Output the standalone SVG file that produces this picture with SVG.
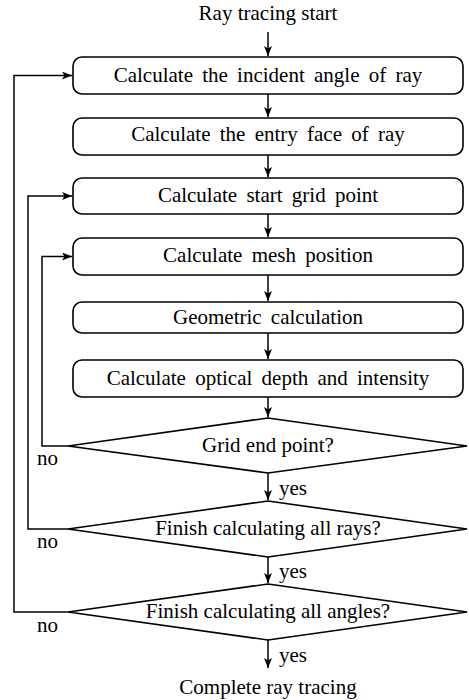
<svg xmlns="http://www.w3.org/2000/svg" width="469" height="700" viewBox="0 0 469 700">
<style>
text{font-family:"Liberation Serif","Times New Roman",serif;font-size:21px;fill:#000}
.c{text-anchor:middle}
.w{word-spacing:4px}
.box{fill:#fff;stroke:#000;stroke-width:1.6}
.ln{fill:none;stroke:#000;stroke-width:1.5}
</style>
<defs>
<marker id="ah" viewBox="0 0 10 8" refX="10" refY="4" markerWidth="10" markerHeight="8" markerUnits="userSpaceOnUse" orient="auto">
<path d="M0,0 L10,4 L0,8 L2.5,4 Z" fill="#000"/>
</marker>
</defs>
<rect width="469" height="700" fill="#fff"/>
<g id="start"><text class="c" x="268" y="20">Ray tracing start</text></g>
<g id="n1"><rect class="box" x="73" y="57" width="390" height="37" rx="9"/><text class="c w" x="268" y="82">Calculate the incident angle of ray</text></g>
<g id="n2"><rect class="box" x="73" y="118" width="390" height="37" rx="9"/><text class="c w" x="268" y="141">Calculate the entry face of ray</text></g>
<g id="n3"><rect class="box" x="73" y="178" width="390" height="36" rx="9"/><text class="c w" x="268" y="202">Calculate start grid point</text></g>
<g id="n4"><rect class="box" x="73" y="238" width="390" height="37" rx="9"/><text class="c w" x="268" y="262">Calculate mesh position</text></g>
<g id="n5"><rect class="box" x="73" y="302" width="390" height="31" rx="9"/><text class="c w" x="268" y="324">Geometric calculation</text></g>
<g id="n6"><rect class="box" x="73" y="360" width="390" height="37" rx="9"/><text class="c w" x="268" y="385">Calculate optical depth and intensity</text></g>
<g id="d1"><polygon class="box" points="268,418 467,446 268,473 68,446"/><text class="c" x="268" y="452">Grid end point?</text></g>
<g id="d2"><polygon class="box" points="268,501 467,529 268,557 68,529"/><text class="c" x="268" y="535">Finish calculating all rays?</text></g>
<g id="d3"><polygon class="box" points="268,584 467,612 268,640 68,612"/><text class="c" x="268" y="618">Finish calculating all angles?</text></g>
<g id="end"><text class="c" x="268" y="694">Complete ray tracing</text></g>
<g id="connectors">
<line class="ln" x1="268" y1="32" x2="268" y2="56" marker-end="url(#ah)"/>
<line class="ln" x1="268" y1="94" x2="268" y2="117" marker-end="url(#ah)"/>
<line class="ln" x1="268" y1="155" x2="268" y2="177" marker-end="url(#ah)"/>
<line class="ln" x1="268" y1="214" x2="268" y2="237" marker-end="url(#ah)"/>
<line class="ln" x1="268" y1="275" x2="268" y2="301" marker-end="url(#ah)"/>
<line class="ln" x1="268" y1="333" x2="268" y2="359" marker-end="url(#ah)"/>
<line class="ln" x1="268" y1="397" x2="268" y2="417" marker-end="url(#ah)"/>
<line class="ln" x1="268" y1="473" x2="268" y2="500" marker-end="url(#ah)"/>
<line class="ln" x1="268" y1="557" x2="268" y2="583" marker-end="url(#ah)"/>
<line class="ln" x1="268" y1="640" x2="268" y2="668" marker-end="url(#ah)"/>
<polyline class="ln" points="68,446 42,446 42,256.5 72,256.5" marker-end="url(#ah)"/>
<polyline class="ln" points="68,529 28,529 28,196 72,196" marker-end="url(#ah)"/>
<polyline class="ln" points="68,612 14,612 14,75.5 72,75.5" marker-end="url(#ah)"/>
<text x="279" y="495">yes</text>
<text x="279" y="578">yes</text>
<text x="279" y="662">yes</text>
<text x="37" y="465">no</text>
<text x="37" y="548">no</text>
<text x="37" y="632">no</text>
</g>
</svg>
